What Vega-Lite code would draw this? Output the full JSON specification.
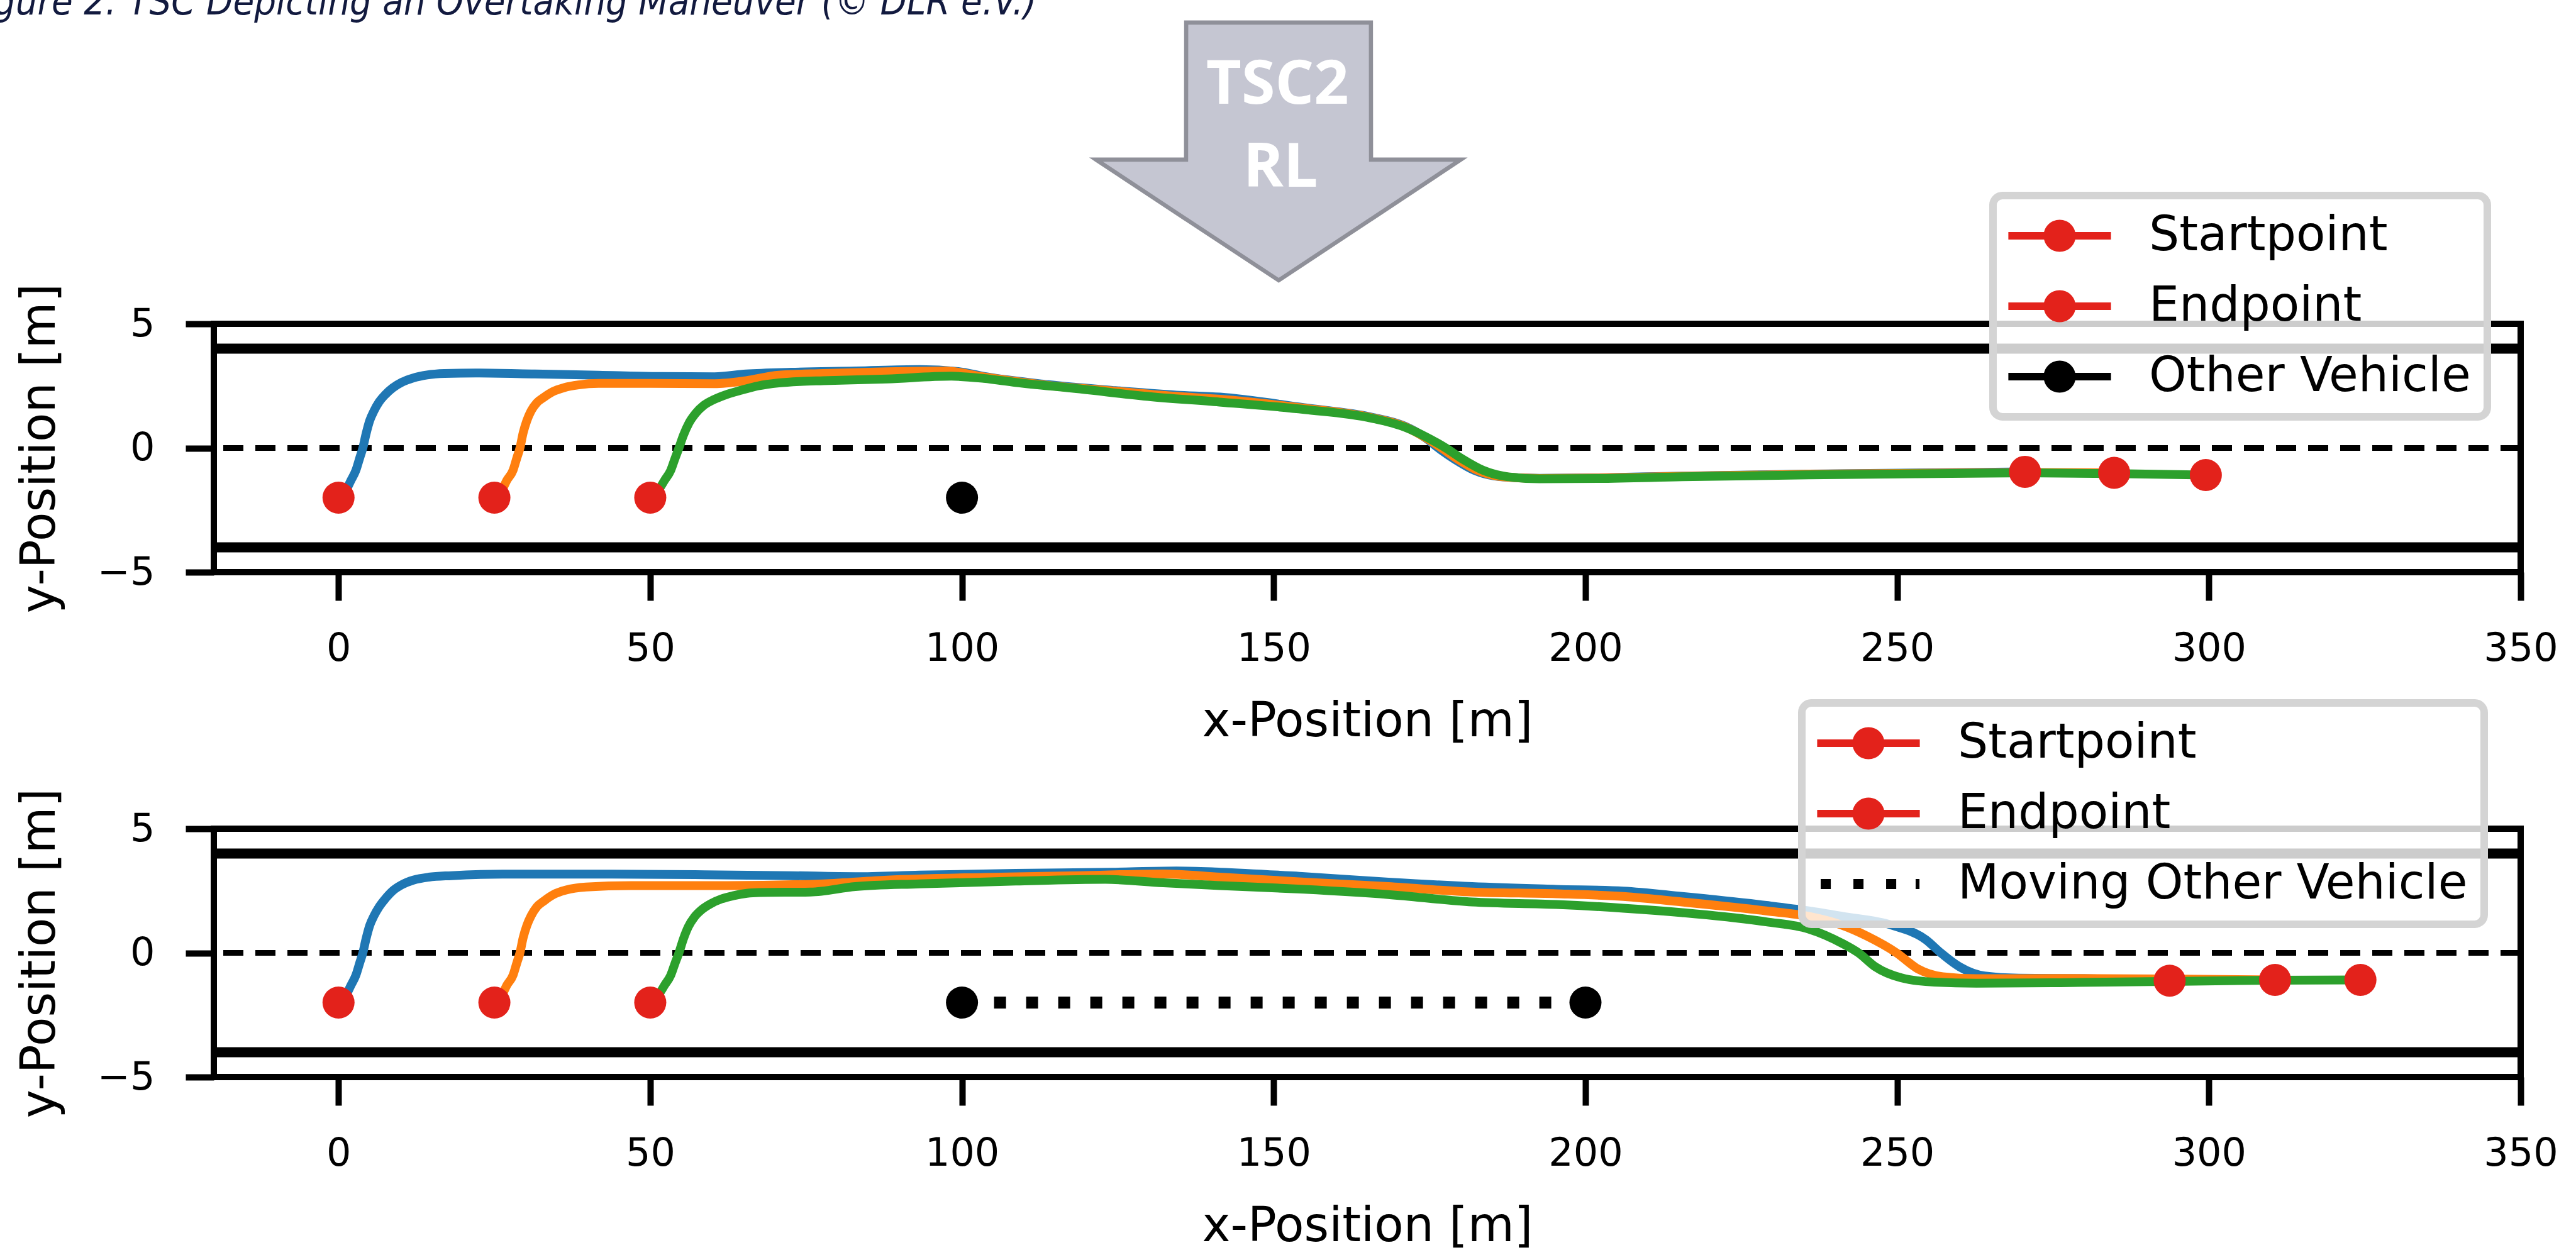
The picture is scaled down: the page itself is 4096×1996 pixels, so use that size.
{
"$schema": "https://vega.github.io/schema/vega-lite/v6.json",
"padding": {"left": -63, "top": -32, "right": 0, "bottom": 0},
"background": "white",
"config": {
  "view": {"stroke": "#000000", "strokeWidth": 10},
  "axis": {"domain": false, "grid": false, "tickColor": "#000000", "tickWidth": 10, "tickSize": 45, "labelFont": "DejaVu Sans", "labelFontSize": 62, "labelColor": "#000000", "titleFont": "DejaVu Sans", "titleFontSize": 76, "titleFontWeight": "normal", "titleColor": "#000000", "labelFlush": false, "labelOverlap": false},
  "axisX": {"labelPadding": 46, "titlePadding": 48},
  "axisY": {"labelPadding": 49, "titlePadding": 52},
  "legend": {"strokeWidth": 12, "labelLimit": 3000}
},
"datasets": {
  "edges": [{"y": 4}, {"y": -4}],
  "center": [{"y": 0}],
  "arrow": [
    {"x": 121.5, "y": 11.61, "y2": 11.61},
    {"x": 135.94, "y": 9.21, "y2": 11.61},
    {"x": 135.96, "y": 9.21, "y2": 17.13},
    {"x": 150.8, "y": 6.75, "y2": 17.13},
    {"x": 165.59, "y": 9.21, "y2": 17.13},
    {"x": 165.61, "y": 9.21, "y2": 11.61},
    {"x": 180.0, "y": 11.61, "y2": 11.61}
  ],
  "traj_top": [
    {"car":"car1","x":0,"y":-2},{"car":"car1","x":1.2,"y":-1.7},{"car":"car1","x":2.0,"y":-1.3},{"car":"car1","x":2.8,"y":-0.89},{"car":"car1","x":3.4,"y":-0.4},{"car":"car1","x":3.9,"y":0},{"car":"car1","x":4.4,"y":0.55},{"car":"car1","x":5.0,"y":1.1},{"car":"car1","x":5.7,"y":1.5},{"car":"car1","x":6.5,"y":1.85},{"car":"car1","x":7.5,"y":2.15},{"car":"car1","x":8.7,"y":2.42},{"car":"car1","x":10.2,"y":2.65},{"car":"car1","x":12,"y":2.82},{"car":"car1","x":14.2,"y":2.94},{"car":"car1","x":17,"y":3.0},{"car":"car1","x":22,"y":3.02},{"car":"car1","x":31.5,"y":2.98},{"car":"car1","x":41.7,"y":2.93},{"car":"car1","x":52,"y":2.88},{"car":"car1","x":60.3,"y":2.87},{"car":"car1","x":65.4,"y":2.98},{"car":"car1","x":72.6,"y":3.05},{"car":"car1","x":82.9,"y":3.1},{"car":"car1","x":93.2,"y":3.16},{"car":"car1","x":99.4,"y":3.08},{"car":"car1","x":103.5,"y":2.88},{"car":"car1","x":113.8,"y":2.55},{"car":"car1","x":124.1,"y":2.32},{"car":"car1","x":134.4,"y":2.13},{"car":"car1","x":141.4,"y":2.05},{"car":"car1","x":154.9,"y":1.62},{"car":"car1","x":165.7,"y":1.24},{"car":"car1","x":171,"y":0.88},{"car":"car1","x":174.4,"y":0.4},{"car":"car1","x":176.4,"y":0},{"car":"car1","x":179,"y":-0.45},{"car":"car1","x":182.2,"y":-0.9},{"car":"car1","x":186.2,"y":-1.15},{"car":"car1","x":192.6,"y":-1.22},{"car":"car1","x":202,"y":-1.2},{"car":"car1","x":215.5,"y":-1.13},{"car":"car1","x":235.8,"y":-1.05},{"car":"car1","x":256,"y":-1.0},{"car":"car1","x":270.5,"y":-0.96},
    {"car":"car2","x":25,"y":-2},{"car":"car2","x":26.2,"y":-1.7},{"car":"car2","x":27.0,"y":-1.3},{"car":"car2","x":28.0,"y":-0.89},{"car":"car2","x":28.6,"y":-0.4},{"car":"car2","x":29.1,"y":0},{"car":"car2","x":29.6,"y":0.6},{"car":"car2","x":30.2,"y":1.1},{"car":"car2","x":30.9,"y":1.5},{"car":"car2","x":31.8,"y":1.82},{"car":"car2","x":33,"y":2.05},{"car":"car2","x":34.4,"y":2.27},{"car":"car2","x":36.2,"y":2.43},{"car":"car2","x":38.5,"y":2.54},{"car":"car2","x":41.7,"y":2.6},{"car":"car2","x":50,"y":2.6},{"car":"car2","x":60.3,"y":2.59},{"car":"car2","x":65.4,"y":2.71},{"car":"car2","x":70.6,"y":2.93},{"car":"car2","x":77.8,"y":3.0},{"car":"car2","x":88,"y":3.07},{"car":"car2","x":97.3,"y":3.1},{"car":"car2","x":103.5,"y":2.86},{"car":"car2","x":113.8,"y":2.52},{"car":"car2","x":124.1,"y":2.3},{"car":"car2","x":134.4,"y":2.08},{"car":"car2","x":141.4,"y":1.96},{"car":"car2","x":154.9,"y":1.6},{"car":"car2","x":165.7,"y":1.22},{"car":"car2","x":171,"y":0.86},{"car":"car2","x":174.4,"y":0.41},{"car":"car2","x":176.9,"y":0},{"car":"car2","x":179.5,"y":-0.45},{"car":"car2","x":182.7,"y":-0.9},{"car":"car2","x":186.7,"y":-1.16},{"car":"car2","x":192.6,"y":-1.23},{"car":"car2","x":202,"y":-1.21},{"car":"car2","x":215.5,"y":-1.14},{"car":"car2","x":235.8,"y":-1.06},{"car":"car2","x":256,"y":-1.01},{"car":"car2","x":270.5,"y":-0.99},{"car":"car2","x":284.8,"y":-1.0},
    {"car":"car3","x":50,"y":-2},{"car":"car3","x":51.3,"y":-1.7},{"car":"car3","x":52.3,"y":-1.3},{"car":"car3","x":53.3,"y":-0.89},{"car":"car3","x":54.0,"y":-0.4},{"car":"car3","x":54.6,"y":0},{"car":"car3","x":55.3,"y":0.5},{"car":"car3","x":56.2,"y":1.0},{"car":"car3","x":57.3,"y":1.4},{"car":"car3","x":58.6,"y":1.72},{"car":"car3","x":60.2,"y":1.95},{"car":"car3","x":62.2,"y":2.15},{"car":"car3","x":64.5,"y":2.32},{"car":"car3","x":67.3,"y":2.5},{"car":"car3","x":70.6,"y":2.62},{"car":"car3","x":74,"y":2.68},{"car":"car3","x":77.8,"y":2.71},{"car":"car3","x":88,"y":2.78},{"car":"car3","x":98.3,"y":2.89},{"car":"car3","x":103.5,"y":2.8},{"car":"car3","x":108.6,"y":2.64},{"car":"car3","x":118.9,"y":2.38},{"car":"car3","x":129.2,"y":2.09},{"car":"car3","x":141.3,"y":1.85},{"car":"car3","x":154.9,"y":1.55},{"car":"car3","x":165.7,"y":1.2},{"car":"car3","x":171,"y":0.84},{"car":"car3","x":174.4,"y":0.45},{"car":"car3","x":177.6,"y":0},{"car":"car3","x":180.3,"y":-0.45},{"car":"car3","x":183.6,"y":-0.9},{"car":"car3","x":187.6,"y":-1.16},{"car":"car3","x":192.6,"y":-1.24},{"car":"car3","x":202,"y":-1.23},{"car":"car3","x":215.5,"y":-1.16},{"car":"car3","x":235.8,"y":-1.08},{"car":"car3","x":256,"y":-1.03},{"car":"car3","x":270.8,"y":-1.0},{"car":"car3","x":285,"y":-1.03},{"car":"car3","x":299.5,"y":-1.09}
  ],
  "traj_bot": [
    {"car":"car1","x":0,"y":-2},{"car":"car1","x":1.2,"y":-1.7},{"car":"car1","x":2.0,"y":-1.3},{"car":"car1","x":2.8,"y":-0.89},{"car":"car1","x":3.4,"y":-0.4},{"car":"car1","x":3.9,"y":0},{"car":"car1","x":4.4,"y":0.55},{"car":"car1","x":5.0,"y":1.1},{"car":"car1","x":5.7,"y":1.5},{"car":"car1","x":6.5,"y":1.85},{"car":"car1","x":7.5,"y":2.18},{"car":"car1","x":8.7,"y":2.5},{"car":"car1","x":10.2,"y":2.75},{"car":"car1","x":12,"y":2.93},{"car":"car1","x":14.5,"y":3.05},{"car":"car1","x":18.1,"y":3.11},{"car":"car1","x":26.3,"y":3.17},{"car":"car1","x":41.7,"y":3.17},{"car":"car1","x":57.2,"y":3.15},{"car":"car1","x":72.6,"y":3.11},{"car":"car1","x":82.9,"y":3.07},{"car":"car1","x":93.2,"y":3.13},{"car":"car1","x":108.6,"y":3.2},{"car":"car1","x":124.1,"y":3.25},{"car":"car1","x":134.4,"y":3.3},{"car":"car1","x":141.4,"y":3.25},{"car":"car1","x":154.9,"y":3.07},{"car":"car1","x":168.4,"y":2.85},{"car":"car1","x":181.8,"y":2.67},{"car":"car1","x":195.3,"y":2.56},{"car":"car1","x":206.1,"y":2.49},{"car":"car1","x":215.5,"y":2.27},{"car":"car1","x":229,"y":1.91},{"car":"car1","x":235.8,"y":1.69},{"car":"car1","x":241.2,"y":1.47},{"car":"car1","x":249.2,"y":1.11},{"car":"car1","x":254.6,"y":0.53},{"car":"car1","x":257,"y":0},{"car":"car1","x":260,"y":-0.56},{"car":"car1","x":264,"y":-0.93},{"car":"car1","x":269.5,"y":-1.02},{"car":"car1","x":280,"y":-1.04},{"car":"car1","x":293.7,"y":-1.12},
    {"car":"car2","x":25,"y":-2},{"car":"car2","x":26.2,"y":-1.7},{"car":"car2","x":27.0,"y":-1.3},{"car":"car2","x":28.0,"y":-0.89},{"car":"car2","x":28.6,"y":-0.4},{"car":"car2","x":29.1,"y":0},{"car":"car2","x":29.6,"y":0.6},{"car":"car2","x":30.2,"y":1.1},{"car":"car2","x":30.9,"y":1.5},{"car":"car2","x":31.8,"y":1.85},{"car":"car2","x":33,"y":2.1},{"car":"car2","x":34.5,"y":2.35},{"car":"car2","x":36.5,"y":2.53},{"car":"car2","x":39.7,"y":2.65},{"car":"car2","x":46.9,"y":2.71},{"car":"car2","x":62.3,"y":2.71},{"car":"car2","x":77.8,"y":2.78},{"car":"car2","x":88,"y":2.93},{"car":"car2","x":103.5,"y":3.04},{"car":"car2","x":118.9,"y":3.11},{"car":"car2","x":132.3,"y":3.18},{"car":"car2","x":141.4,"y":3.05},{"car":"car2","x":154.9,"y":2.85},{"car":"car2","x":168.4,"y":2.67},{"car":"car2","x":181.8,"y":2.45},{"car":"car2","x":195.3,"y":2.38},{"car":"car2","x":206.1,"y":2.27},{"car":"car2","x":215.5,"y":2.05},{"car":"car2","x":229,"y":1.69},{"car":"car2","x":235.8,"y":1.47},{"car":"car2","x":241.2,"y":1.11},{"car":"car2","x":245.2,"y":0.67},{"car":"car2","x":249.9,"y":0},{"car":"car2","x":253.3,"y":-0.64},{"car":"car2","x":257.3,"y":-0.96},{"car":"car2","x":262.7,"y":-1.04},{"car":"car2","x":276,"y":-1.03},{"car":"car2","x":293,"y":-1.05},{"car":"car2","x":310.6,"y":-1.09},
    {"car":"car3","x":50,"y":-2},{"car":"car3","x":51.3,"y":-1.7},{"car":"car3","x":52.3,"y":-1.3},{"car":"car3","x":53.3,"y":-0.89},{"car":"car3","x":54.0,"y":-0.4},{"car":"car3","x":54.6,"y":0},{"car":"car3","x":55.3,"y":0.55},{"car":"car3","x":56.1,"y":1.05},{"car":"car3","x":57.1,"y":1.45},{"car":"car3","x":58.3,"y":1.75},{"car":"car3","x":59.7,"y":1.98},{"car":"car3","x":61.4,"y":2.17},{"car":"car3","x":63.3,"y":2.3},{"car":"car3","x":65.5,"y":2.4},{"car":"car3","x":67.5,"y":2.43},{"car":"car3","x":75.7,"y":2.45},{"car":"car3","x":82.9,"y":2.67},{"car":"car3","x":93.2,"y":2.78},{"car":"car3","x":108.6,"y":2.89},{"car":"car3","x":123,"y":2.96},{"car":"car3","x":132.3,"y":2.82},{"car":"car3","x":141.4,"y":2.71},{"car":"car3","x":154.9,"y":2.56},{"car":"car3","x":168.4,"y":2.35},{"car":"car3","x":181.8,"y":2.05},{"car":"car3","x":195.3,"y":1.95},{"car":"car3","x":206.1,"y":1.8},{"car":"car3","x":215.5,"y":1.62},{"car":"car3","x":229,"y":1.25},{"car":"car3","x":235.8,"y":0.96},{"car":"car3","x":241.2,"y":0.38},{"car":"car3","x":243.8,"y":0},{"car":"car3","x":246.5,"y":-0.56},{"car":"car3","x":250.6,"y":-1.0},{"car":"car3","x":256,"y":-1.18},{"car":"car3","x":262.7,"y":-1.22},{"car":"car3","x":276.2,"y":-1.2},{"car":"car3","x":293.7,"y":-1.15},{"car":"car3","x":309.9,"y":-1.1},{"car":"car3","x":324.3,"y":-1.09}
  ],
  "pts_top": [
    {"kind":"Startpoint","x":0,"y":-2},{"kind":"Startpoint","x":25,"y":-2},{"kind":"Startpoint","x":50,"y":-2},
    {"kind":"Endpoint","x":270.5,"y":-0.96},{"kind":"Endpoint","x":284.8,"y":-1.0},{"kind":"Endpoint","x":299.5,"y":-1.09},
    {"kind":"Other Vehicle","x":100,"y":-2}
  ],
  "pts_bot": [
    {"kind":"Startpoint","x":0,"y":-2},{"kind":"Startpoint","x":25,"y":-2},{"kind":"Startpoint","x":50,"y":-2},
    {"kind":"Endpoint","x":293.7,"y":-1.12},{"kind":"Endpoint","x":310.6,"y":-1.09},{"kind":"Endpoint","x":324.3,"y":-1.09},
    {"kind":"Moving Other Vehicle","x":100,"y":-2},{"kind":"Moving Other Vehicle","x":200,"y":-2}
  ],
  "moving": [{"kind":"Moving Other Vehicle","x":100,"y":-2},{"kind":"Moving Other Vehicle","x":200,"y":-2}]
},
"spacing": 408,
"bounds": "flush",
"resolve": {"scale": {"color": "independent", "stroke": "independent", "strokeDash": "independent", "x": "independent", "y": "independent"}, "legend": {"color": "independent", "strokeDash": "independent"}},
"vconcat": [
  {
    "width": 3668, "height": 395,
    "layer": [
      {"data": {"name": "edges"}, "mark": {"type": "rule", "color": "#000000", "strokeWidth": 16},
       "encoding": {"y": {"field": "y", "type": "quantitative", "scale": {"domain": [-5, 5], "nice": false, "zero": false}, "axis": {"title": "y-Position [m]", "values": [-5, 0, 5], "format": "d"}}}},
      {"data": {"name": "center"}, "mark": {"type": "rule", "color": "#000000", "strokeWidth": 9, "strokeDash": [32, 19]},
       "encoding": {"y": {"field": "y", "type": "quantitative", "scale": {"domain": [-5, 5], "nice": false, "zero": false}, "axis": {"title": "y-Position [m]", "values": [-5, 0, 5], "format": "d"}}}},
      {"data": {"name": "arrow"}, "mark": {"type": "area", "fill": "#c5c6d2", "fillOpacity": 1, "stroke": "#8f9099", "strokeWidth": 6.6, "strokeJoin": "miter", "interpolate": "linear", "clip": false},
       "encoding": {
         "x": {"field": "x", "type": "quantitative", "scale": {"domain": [-20, 350], "nice": false, "zero": false}, "axis": {"title": "x-Position [m]", "values": [0, 50, 100, 150, 200, 250, 300, 350], "format": "d"}},
         "y": {"field": "y", "type": "quantitative", "scale": {"domain": [-5, 5], "nice": false, "zero": false}, "axis": {"title": "y-Position [m]", "values": [-5, 0, 5], "format": "d"}},
         "y2": {"field": "y2"}}},
      {"data": {"values": [{"t": "TSC2"}]}, "mark": {"type": "text", "align": "center", "baseline": "alphabetic", "font": "Open Sans", "fontWeight": "bold", "fontSize": 97, "color": "#ffffff"},
       "encoding": {
         "x": {"datum": 150.6, "type": "quantitative", "scale": {"domain": [-20, 350], "nice": false, "zero": false}, "axis": {"title": "x-Position [m]", "values": [0, 50, 100, 150, 200, 250, 300, 350], "format": "d"}},
         "y": {"datum": 13.86, "type": "quantitative", "scale": {"domain": [-5, 5], "nice": false, "zero": false}, "axis": {"title": "y-Position [m]", "values": [-5, 0, 5], "format": "d"}},
         "text": {"field": "t"}}},
      {"data": {"values": [{"t": "RL"}]}, "mark": {"type": "text", "align": "center", "baseline": "alphabetic", "font": "Open Sans", "fontWeight": "bold", "fontSize": 97, "color": "#ffffff"},
       "encoding": {
         "x": {"datum": 151.1, "type": "quantitative", "scale": {"domain": [-20, 350], "nice": false, "zero": false}, "axis": {"title": "x-Position [m]", "values": [0, 50, 100, 150, 200, 250, 300, 350], "format": "d"}},
         "y": {"datum": 10.52, "type": "quantitative", "scale": {"domain": [-5, 5], "nice": false, "zero": false}, "axis": {"title": "y-Position [m]", "values": [-5, 0, 5], "format": "d"}},
         "text": {"field": "t"}}},
      {"data": {"name": "traj_top"}, "mark": {"type": "line", "strokeWidth": 14, "strokeJoin": "round", "strokeCap": "butt", "interpolate": "monotone"},
       "encoding": {
         "x": {"field": "x", "type": "quantitative", "scale": {"domain": [-20, 350], "nice": false, "zero": false}, "axis": {"title": "x-Position [m]", "values": [0, 50, 100, 150, 200, 250, 300, 350], "format": "d"}},
         "y": {"field": "y", "type": "quantitative", "scale": {"domain": [-5, 5], "nice": false, "zero": false}, "axis": {"title": "y-Position [m]", "values": [-5, 0, 5], "format": "d"}},
         "stroke": {"field": "car", "type": "nominal", "scale": {"domain": ["car1", "car2", "car3"], "range": ["#1f77b4", "#ff7f0e", "#2ca02c"]}, "legend": null}}},
      {"data": {"name": "pts_top"}, "mark": {"type": "circle", "size": 2601, "opacity": 1},
       "encoding": {
         "x": {"field": "x", "type": "quantitative", "scale": {"domain": [-20, 350], "nice": false, "zero": false}, "axis": {"title": "x-Position [m]", "values": [0, 50, 100, 150, 200, 250, 300, 350], "format": "d"}},
         "y": {"field": "y", "type": "quantitative", "scale": {"domain": [-5, 5], "nice": false, "zero": false}, "axis": {"title": "y-Position [m]", "values": [-5, 0, 5], "format": "d"}},
         "color": {"field": "kind", "type": "nominal", "scale": {"domain": ["Startpoint", "Endpoint", "Other Vehicle"], "range": ["#e3221b", "#e3221b", "#000000"]},
           "legend": {"title": null, "orient": "none", "legendX": 2829, "legendY": -204, "zindex": 1, "symbolType": "M-3.2,-0.235H3.2V0.235H-3.2Z M-1,0A1,1 0 1,1 1,0A1,1 0 1,1 -1,0Z", "symbolSize": 2601, "symbolStrokeWidth": 0, "symbolOpacity": 1, "symbolOffset": 42, "labelOffset": 104, "rowPadding": 36, "padding": 26, "fillColor": "rgba(255,255,255,0.8)", "strokeColor": "#d4d4d4", "cornerRadius": 15, "labelFont": "DejaVu Sans", "labelFontSize": 76, "labelColor": "#000000", "labelLimit": 3000}}}},
      {"data": {"values": [{"t": "Figure 2: TSC Depicting an Overtaking Maneuver (© DLR e.V.)"}]}, "mark": {"type": "text", "align": "left", "baseline": "alphabetic", "font": "DejaVu Sans Condensed, Liberation Sans", "fontStyle": "italic", "fontSize": 61, "color": "#121a3f"},
       "encoding": {
         "x": {"datum": -60.05, "type": "quantitative", "scale": {"domain": [-20, 350], "nice": false, "zero": false}, "axis": {"title": "x-Position [m]", "values": [0, 50, 100, 150, 200, 250, 300, 350], "format": "d"}},
         "y": {"datum": 17.456, "type": "quantitative", "scale": {"domain": [-5, 5], "nice": false, "zero": false}, "axis": {"title": "y-Position [m]", "values": [-5, 0, 5], "format": "d"}},
         "text": {"field": "t"}}}
    ]
  },
  {
    "width": 3668, "height": 395,
    "layer": [
      {"data": {"name": "edges"}, "mark": {"type": "rule", "color": "#000000", "strokeWidth": 16},
       "encoding": {"y": {"field": "y", "type": "quantitative", "scale": {"domain": [-5, 5], "nice": false, "zero": false}, "axis": {"title": "y-Position [m]", "values": [-5, 0, 5], "format": "d"}}}},
      {"data": {"name": "center"}, "mark": {"type": "rule", "color": "#000000", "strokeWidth": 9, "strokeDash": [32, 19]},
       "encoding": {"y": {"field": "y", "type": "quantitative", "scale": {"domain": [-5, 5], "nice": false, "zero": false}, "axis": {"title": "y-Position [m]", "values": [-5, 0, 5], "format": "d"}}}},
      {"data": {"name": "traj_bot"}, "mark": {"type": "line", "strokeWidth": 14, "strokeJoin": "round", "strokeCap": "butt", "interpolate": "monotone"},
       "encoding": {
         "x": {"field": "x", "type": "quantitative", "scale": {"domain": [-20, 350], "nice": false, "zero": false}, "axis": {"title": "x-Position [m]", "values": [0, 50, 100, 150, 200, 250, 300, 350], "format": "d"}},
         "y": {"field": "y", "type": "quantitative", "scale": {"domain": [-5, 5], "nice": false, "zero": false}, "axis": {"title": "y-Position [m]", "values": [-5, 0, 5], "format": "d"}},
         "stroke": {"field": "car", "type": "nominal", "scale": {"domain": ["car1", "car2", "car3"], "range": ["#1f77b4", "#ff7f0e", "#2ca02c"]}, "legend": null}}},
      {"data": {"name": "moving"}, "mark": {"type": "line", "color": "#000000", "strokeWidth": 19, "strokeCap": "butt"},
       "encoding": {
         "x": {"field": "x", "type": "quantitative", "scale": {"domain": [-20, 350], "nice": false, "zero": false}, "axis": {"title": "x-Position [m]", "values": [0, 50, 100, 150, 200, 250, 300, 350], "format": "d"}},
         "y": {"field": "y", "type": "quantitative", "scale": {"domain": [-5, 5], "nice": false, "zero": false}, "axis": {"title": "y-Position [m]", "values": [-5, 0, 5], "format": "d"}},
         "strokeDash": {"field": "kind", "type": "nominal", "scale": {"domain": ["Moving Other Vehicle"], "range": [[19, 32]]},
           "legend": {"title": null, "orient": "none", "legendX": 2525, "legendY": 24, "zindex": 2, "symbolType": "M-2.98,-0.31H-2.35V0.31H-2.98Z M-0.94,-0.31H-0.31V0.31H-0.94Z M1.1,-0.31H1.73V0.31H1.1Z M2.94,-0.31H3.18V0.31H2.94Z", "symbolSize": 2601, "symbolFillColor": "#000000", "symbolStrokeColor": "transparent", "symbolStrokeWidth": 0, "symbolOpacity": 1, "symbolOffset": 42, "labelOffset": 104, "labelExpr": "''", "rowPadding": 36, "padding": 26, "fillColor": "transparent", "strokeColor": "transparent", "labelFont": "DejaVu Sans", "labelFontSize": 76, "labelColor": "#000000"}}}},
      {"data": {"name": "pts_bot"}, "mark": {"type": "circle", "size": 2601, "opacity": 1},
       "encoding": {
         "x": {"field": "x", "type": "quantitative", "scale": {"domain": [-20, 350], "nice": false, "zero": false}, "axis": {"title": "x-Position [m]", "values": [0, 50, 100, 150, 200, 250, 300, 350], "format": "d"}},
         "y": {"field": "y", "type": "quantitative", "scale": {"domain": [-5, 5], "nice": false, "zero": false}, "axis": {"title": "y-Position [m]", "values": [-5, 0, 5], "format": "d"}},
         "color": {"field": "kind", "type": "nominal", "scale": {"domain": ["Startpoint", "Endpoint", "Moving Other Vehicle"], "range": ["#e3221b", "#e3221b", "transparent"]},
           "legend": {"title": null, "orient": "none", "legendX": 2525, "legendY": -200, "zindex": 1, "symbolType": "M-3.2,-0.235H3.2V0.235H-3.2Z M-1,0A1,1 0 1,1 1,0A1,1 0 1,1 -1,0Z", "symbolSize": 2601, "symbolStrokeWidth": 0, "symbolOpacity": 1, "symbolOffset": 42, "labelOffset": 104, "rowPadding": 36, "padding": 26, "fillColor": "rgba(255,255,255,0.8)", "strokeColor": "#d4d4d4", "cornerRadius": 15, "labelFont": "DejaVu Sans", "labelFontSize": 76, "labelColor": "#000000", "labelLimit": 3000}}}},
      {"data": {"name": "moving"}, "mark": {"type": "circle", "size": 2601, "opacity": 1, "color": "#000000"},
       "encoding": {
         "x": {"field": "x", "type": "quantitative", "scale": {"domain": [-20, 350], "nice": false, "zero": false}, "axis": {"title": "x-Position [m]", "values": [0, 50, 100, 150, 200, 250, 300, 350], "format": "d"}},
         "y": {"field": "y", "type": "quantitative", "scale": {"domain": [-5, 5], "nice": false, "zero": false}, "axis": {"title": "y-Position [m]", "values": [-5, 0, 5], "format": "d"}}}}
    ]
  }
]
}
